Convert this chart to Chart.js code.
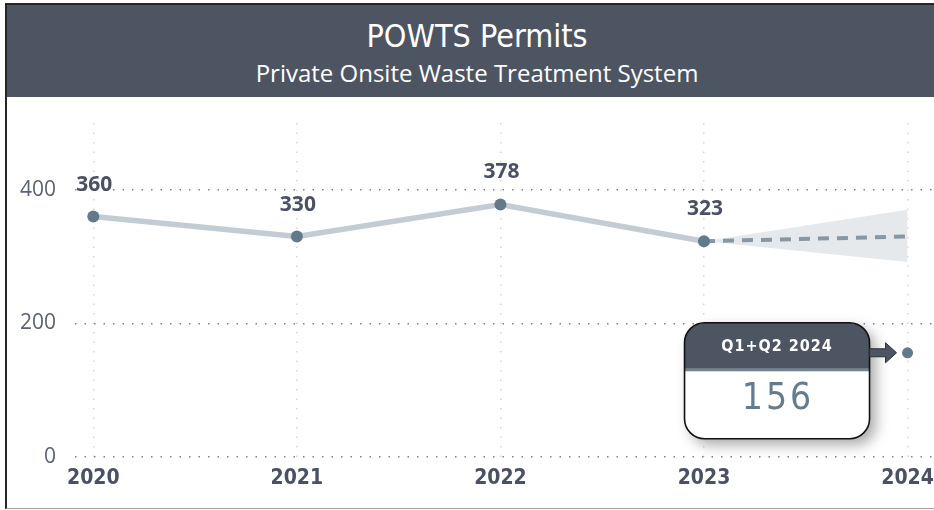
<!DOCTYPE html>
<html>
<head>
<meta charset="utf-8">
<script src="https://cdn.jsdelivr.net/npm/chart.js@4.4.1/dist/chart.umd.min.js"></script>
<style>
  html,body{margin:0;padding:0;background:#fff;width:934px;height:510px;overflow:hidden;}
  #frame{position:absolute;left:5px;top:3px;width:940px;height:503px;border-left:2px solid #262626;border-top:2px solid #262626;border-bottom:1px solid #a0a0a0;box-sizing:content-box;}
  #header{position:absolute;left:0;top:0;width:100%;height:92px;background:#4e5562;color:#fff;text-align:center;}
  #title{position:absolute;left:0;right:0;top:12px;font-family:"DejaVu Sans Condensed","DejaVu Sans",sans-serif;font-size:32px;line-height:38px;}
  #subtitle{position:absolute;left:0;right:0;top:53px;font-family:"Open Sans",sans-serif;font-size:24px;line-height:30px;}
  #wrap{position:absolute;left:7px;top:97px;width:927px;height:410px;}
</style>
</head>
<body>
<div id="frame">
  <div id="header"><div id="title">POWTS Permits</div><div id="subtitle">Private Onsite Waste Treatment System</div></div>
</div>
<div id="wrap"><canvas id="c" width="927" height="410"></canvas></div>
<script>
const years = ["2020","2021","2022","2023","2024"];
const permits = [360, 330, 378, 323, null];
const partial2024 = [null, null, null, null, 156];
const forecast = [null, null, null, 323, 330];
const forecastUpper = [null, null, null, 323, 370];
const forecastLower = [null, null, null, 323, 292];
const yTicks = [0, 200, 400];
const cardTitle = "Q1+Q2 2024";

const toXY = arr => arr.map((v,i)=>({x:i,y:v}));

const labelPlugin = {
  id:'labels',
  afterDatasetsDraw(chart){
    const ctx = chart.ctx;
    const meta = chart.getDatasetMeta(3);
    ctx.save();
    ctx.font = 'bold 21px "Open Sans", sans-serif';
    ctx.fillStyle = '#4a5163';
    ctx.textAlign = 'center';
    ctx.textBaseline = 'middle';
    meta.data.forEach((pt,i)=>{
      if (permits[i]==null) return;
      ctx.fillText(String(permits[i]), pt.x + 1, pt.y - 32);
    });
    ctx.restore();
  }
};

function roundRect(ctx,x,y,w,h,r){
  ctx.beginPath();
  ctx.moveTo(x+r,y);
  ctx.lineTo(x+w-r,y);
  ctx.arcTo(x+w,y,x+w,y+r,r);
  ctx.lineTo(x+w,y+h-r);
  ctx.arcTo(x+w,y+h,x+w-r,y+h,r);
  ctx.lineTo(x+r,y+h);
  ctx.arcTo(x,y+h,x,y+h-r,r);
  ctx.lineTo(x,y+r);
  ctx.arcTo(x,y,x+r,y,r);
  ctx.closePath();
}

const cardPlugin = {
  id:'card',
  afterDraw(chart){
    const ctx = chart.ctx;
    const xs = chart.scales.x, ys = chart.scales.y;
    const px = xs.getPixelForValue(4), py = ys.getPixelForValue(partial2024[4]);
    const w = 185, h = 116, r = 20;
    const left = px - 223, top = py - 30;
    const headH = 46;
    ctx.save();
    ctx.shadowColor = 'rgba(0,0,0,0.35)';
    ctx.shadowBlur = 14;
    ctx.shadowOffsetX = 6;
    ctx.shadowOffsetY = 6;
    roundRect(ctx,left,top,w,h,r);
    ctx.fillStyle = '#fff';
    ctx.fill();
    ctx.restore();
    ctx.save();
    roundRect(ctx,left,top,w,h,r);
    ctx.clip();
    ctx.fillStyle = '#4e5562';
    ctx.fillRect(left,top,w,headH);
    ctx.fillStyle = '#6e8594';
    ctx.fillRect(left,top+headH,w,2.5);
    ctx.restore();
    ctx.save();
    roundRect(ctx,left,top,w,h,r);
    ctx.lineWidth = 1.6;
    ctx.strokeStyle = '#111';
    ctx.stroke();
    const ax = left + w, ay = py;
    ctx.beginPath();
    ctx.moveTo(ax, ay-4);
    ctx.lineTo(ax+16, ay-4);
    ctx.lineTo(ax+16, ay-10);
    ctx.lineTo(ax+27, ay);
    ctx.lineTo(ax+16, ay+10);
    ctx.lineTo(ax+16, ay+4);
    ctx.lineTo(ax, ay+4);
    ctx.closePath();
    ctx.fillStyle = '#4e5562';
    ctx.fill();
    ctx.lineWidth = 1;
    ctx.strokeStyle = '#2a2e36';
    ctx.stroke();
    ctx.textAlign = 'center';
    ctx.textBaseline = 'middle';
    ctx.fillStyle = '#fff';
    if (ctx.letterSpacing !== undefined) ctx.letterSpacing = '1px';
    ctx.font = 'bold 16px "DejaVu Sans Condensed", "DejaVu Sans", sans-serif';
    ctx.fillText(cardTitle, left + w/2, top + 24);
    ctx.fillStyle = '#657d8b';
    ctx.font = '37px "DejaVu Sans Condensed", "DejaVu Sans", sans-serif';
    if (ctx.letterSpacing !== undefined) ctx.letterSpacing = '3px';
    ctx.fillText(String(partial2024[4]), left + w/2 + 1, top + 77);
    ctx.restore();
  }
};

new Chart(document.getElementById('c'), {
  type:'line',
  data:{
    datasets:[
      {data:toXY(forecastLower), borderWidth:0, pointRadius:0, fill:false, order:10},
      {data:toXY(forecastUpper), borderWidth:0, pointRadius:0, fill:'-1', backgroundColor:'#e6e9ec', order:9},
      {data:toXY(forecast), borderColor:'#8797a3', borderWidth:4, borderDash:[11,8], pointRadius:0, fill:false, order:5},
      {data:toXY(permits), borderColor:'#c4ccd3', borderWidth:5.5, pointRadius:6, pointBackgroundColor:'#627a8a', pointBorderWidth:0, fill:false, order:1},
      {data:toXY(partial2024), pointRadius:5.5, pointBackgroundColor:'#627a8a', pointBorderWidth:0, showLine:false, order:0}
    ]
  },
  options:{
    responsive:false,
    animation:false,
    events:[],
    layout:{autoPadding:false, padding:{top:26,right:0,left:0,bottom:0}},
    plugins:{legend:{display:false},tooltip:{enabled:false},title:{display:false}},
    scales:{
      x:{
        type:'linear', min:-0.09, max:4.13,
        afterBuildTicks(s){ s.ticks = years.map((_,i)=>({value:i})); },
        afterFit(s){ s.height = 50; s.paddingLeft = 0; s.paddingRight = 0; },
        grid:{color:'#d3d7dc', lineWidth:1.5, drawTicks:false},
        border:{display:false, dash:[1.5,8]},
        ticks:{padding:9, color:'#4a5163', font:{family:'"DejaVu Sans Condensed", "DejaVu Sans", sans-serif', size:21, weight:'bold'}, callback:(v)=>years[v], maxRotation:0, autoSkip:false}
      },
      y:{
        min:0, max:500,
        afterBuildTicks(s){ s.ticks = yTicks.map(v=>({value:v})); },
        afterFit(s){ s.width = 68; s.paddingTop = 0; s.paddingBottom = 0; },
        grid:{color:'#7d838d', lineWidth:1.5, drawTicks:false},
        border:{display:false, dash:[1.5,8]},
        ticks:{padding:19, color:'#5b6271', font:{family:'"Open Sans", sans-serif', size:21}}
      }
    }
  },
  plugins:[labelPlugin, cardPlugin]
});
</script>
</body>
</html>
